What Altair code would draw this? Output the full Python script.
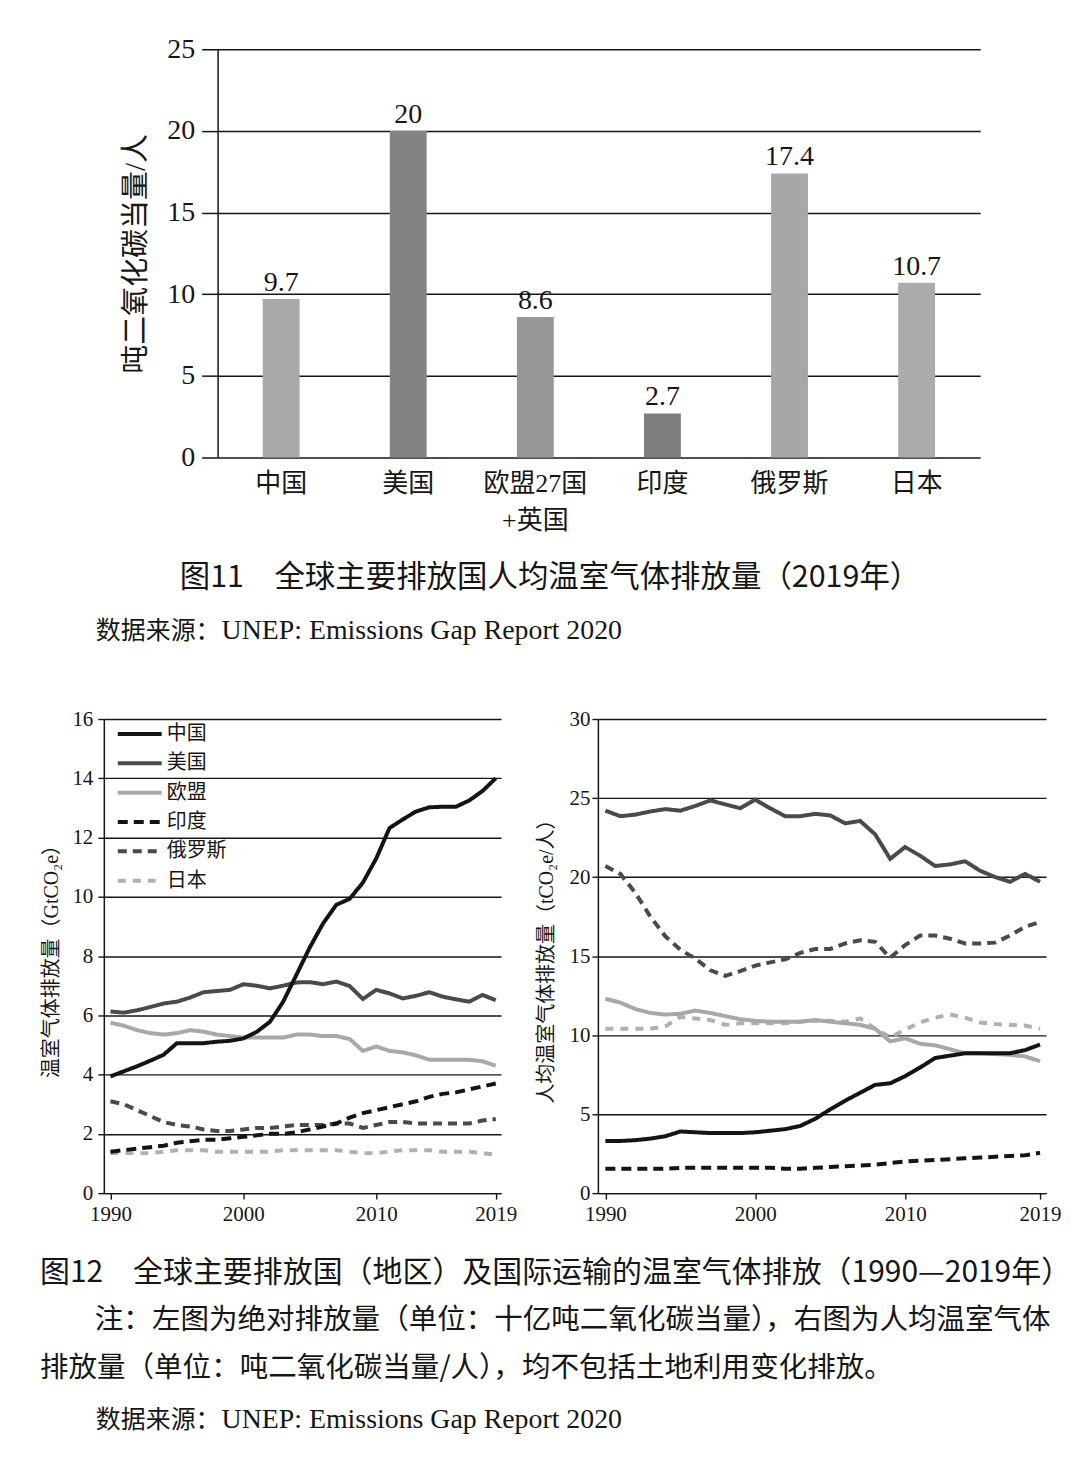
import altair as alt
import pandas as pd

SERIF = "Liberation Serif, Noto Sans CJK SC, serif"
CJK = "Noto Sans CJK SC, sans-serif"
INK = "#161616"

# ---------------- Figure 11 data ----------------
bar_categories = ["中国", "美国", "欧盟27国+英国", "印度", "俄罗斯", "日本"]
bar_values = [9.7, 20, 8.6, 2.7, 17.4, 10.7]
bar_value_labels = ["9.7", "20", "8.6", "2.7", "17.4", "10.7"]
bar_colors = ["#a9a9a9", "#838383", "#979797", "#7e7e7e", "#a7a7a7", "#ababab"]
bar_ticks = [0, 5, 10, 15, 20, 25]

caption11 = "图11　全球主要排放国人均温室气体排放量（2019年）"
source_cn = "数据来源："
source_en = "UNEP: Emissions Gap Report 2020"

# ---------------- Figure 12 data ----------------
years = list(range(1990, 2020))
series_names = ["中国", "美国", "欧盟", "印度", "俄罗斯", "日本"]
series_colors = ["#141414", "#4a4a4a", "#a8a8a8", "#141414", "#4a4a4a", "#b0b0b0"]
series_dashes = [[1, 0], [1, 0], [1, 0], [10, 6], [9, 6], [8, 7]]

abs_china = [3.94, 4.11, 4.28, 4.47, 4.67, 5.06, 5.06, 5.06, 5.11, 5.14,
             5.22, 5.44, 5.78, 6.46, 7.37, 8.29, 9.1, 9.73, 9.93, 10.48,
             11.29, 12.32, 12.61, 12.88, 13.02, 13.04, 13.04, 13.25, 13.57, 14.0]
abs_us = [6.13, 6.09, 6.17, 6.28, 6.4, 6.46, 6.6, 6.78, 6.82, 6.86,
          7.05, 7.0, 6.91, 7.0, 7.11, 7.12, 7.05, 7.14, 6.99, 6.55,
          6.86, 6.74, 6.57, 6.66, 6.78, 6.63, 6.54, 6.46, 6.69, 6.51]
abs_eu = [5.75, 5.65, 5.5, 5.4, 5.35, 5.4, 5.5, 5.45, 5.35, 5.3,
          5.25, 5.25, 5.25, 5.25, 5.35, 5.35, 5.3, 5.3, 5.2, 4.8,
          4.95, 4.8, 4.75, 4.65, 4.5, 4.5, 4.5, 4.5, 4.45, 4.3]
abs_india = [1.4, 1.45, 1.5, 1.55, 1.6, 1.7, 1.75, 1.8, 1.8, 1.85,
             1.9, 1.95, 2.0, 2.0, 2.05, 2.15, 2.25, 2.35, 2.55, 2.7,
             2.8, 2.9, 3.0, 3.1, 3.25, 3.35, 3.4, 3.5, 3.6, 3.7]
abs_russia = [3.1, 3.0, 2.8, 2.6, 2.4, 2.3, 2.25, 2.15, 2.1, 2.1,
              2.15, 2.2, 2.2, 2.25, 2.3, 2.3, 2.3, 2.35, 2.35, 2.2,
              2.3, 2.4, 2.4, 2.35, 2.35, 2.35, 2.35, 2.35, 2.45, 2.5]
abs_japan = [1.35, 1.35, 1.35, 1.35, 1.4, 1.45, 1.45, 1.45, 1.4, 1.4,
             1.4, 1.4, 1.4, 1.45, 1.45, 1.45, 1.45, 1.45, 1.4, 1.35,
             1.35, 1.4, 1.45, 1.45, 1.45, 1.4, 1.4, 1.4, 1.35, 1.3]

pc_china = [3.3, 3.3, 3.35, 3.45, 3.6, 3.9, 3.85, 3.8, 3.8, 3.8,
            3.85, 3.95, 4.05, 4.25, 4.7, 5.3, 5.85, 6.35, 6.85, 6.95,
            7.4, 7.95, 8.55, 8.7, 8.85, 8.85, 8.85, 8.85, 9.05, 9.4]
pc_us = [24.2, 23.85, 23.95, 24.15, 24.3, 24.2, 24.5, 24.85, 24.6, 24.35,
         24.9, 24.35, 23.85, 23.85, 24.0, 23.9, 23.4, 23.55, 22.7, 21.15,
         21.9, 21.35, 20.7, 20.8, 21.0, 20.4, 20.0, 19.7, 20.2, 19.7]
pc_eu = [12.3, 12.05, 11.65, 11.4, 11.3, 11.35, 11.55, 11.4, 11.2, 11.0,
         10.9, 10.85, 10.85, 10.85, 10.95, 10.85, 10.75, 10.65, 10.4, 9.6,
         9.8, 9.45, 9.35, 9.1, 8.85, 8.85, 8.8, 8.75, 8.65, 8.35]
pc_india = [1.55, 1.55, 1.55, 1.55, 1.55, 1.6, 1.6, 1.6, 1.6, 1.6,
            1.6, 1.6, 1.55, 1.55, 1.6, 1.65, 1.7, 1.75, 1.8, 1.9,
            2.0, 2.05, 2.1, 2.15, 2.2, 2.25, 2.3, 2.35, 2.4, 2.55]
pc_russia = [20.7, 20.2, 19.0, 17.5, 16.25, 15.4, 14.85, 14.1, 13.75, 14.05,
             14.4, 14.6, 14.8, 15.2, 15.45, 15.45, 15.8, 16.0, 15.9, 14.9,
             15.7, 16.3, 16.3, 16.1, 15.8, 15.8, 15.85, 16.3, 16.85, 17.15]
pc_japan = [10.4, 10.4, 10.4, 10.4, 10.55, 11.15, 11.05, 10.95, 10.65, 10.75,
            10.75, 10.75, 10.75, 10.85, 10.9, 10.9, 10.85, 11.05, 10.4, 9.85,
            10.35, 10.8, 11.1, 11.3, 11.1, 10.8, 10.7, 10.65, 10.6, 10.4]

x_ticks = [1990, 2000, 2010, 2019]
abs_ticks = [0, 2, 4, 6, 8, 10, 12, 14, 16]
pc_ticks = [0, 5, 10, 15, 20, 25, 30]

abs_title = "温室气体排放量（GtCO₂e）"
pc_title = "人均温室气体排放量（tCO₂e/人）"
caption12 = "图12　全球主要排放国（地区）及国际运输的温室气体排放（1990—2019年）"
note_line1 = "注：左图为绝对排放量（单位：十亿吨二氧化碳当量），右图为人均温室气体"
note_line2 = "排放量（单位：吨二氧化碳当量/人），均不包括土地利用变化排放。"


def long_df(cols):
    rows = []
    # reversed so that 中国 is drawn last (on top)
    for name, vals in reversed(list(zip(series_names, cols))):
        for yr, v in zip(years, vals):
            rows.append({"year": yr, "series": name, "value": v})
    return pd.DataFrame(rows)


abs_df = long_df([abs_china, abs_us, abs_eu, abs_india, abs_russia, abs_japan])
pc_df = long_df([pc_china, pc_us, pc_eu, pc_india, pc_russia, pc_japan])


def text_layer(s, x, y, size, font, align="left"):
    return alt.Chart(pd.DataFrame({"t": [s]})).mark_text(
        align=align, baseline="middle", font=font, fontSize=size, color=INK
    ).encode(x=alt.value(x), y=alt.value(y), text="t:N")


def y_axis(values, title, title_pad, label_pad, tick):
    return alt.Axis(
        values=values, title=title, titleFont=SERIF, titleFontSize=20,
        titleFontWeight="normal", titleColor=INK, titlePadding=title_pad,
        labelFont=SERIF, labelFontSize=21, labelColor=INK, labelPadding=label_pad,
        labelFlush=False, tickSize=tick, tickColor=INK, tickWidth=1.4,
        domainColor=INK, domainWidth=1.5, grid=True, gridColor=INK, gridWidth=1.4,
    )


x_axis_line = alt.Axis(
    values=x_ticks, format="d", title=None, labelFont=SERIF, labelFontSize=21,
    labelColor=INK, labelPadding=4, labelFlush=False, tickSize=6, tickColor=INK,
    tickWidth=1.4, domainColor=INK, domainWidth=1.5, grid=False,
)

color_enc = alt.Color("series:N", scale=alt.Scale(domain=series_names, range=series_colors), legend=None)
dash_enc = alt.StrokeDash("series:N", scale=alt.Scale(domain=series_names, range=series_dashes), legend=None)

# ---------------- Figure 11 chart ----------------
bar_df = pd.DataFrame({"cat": bar_categories, "val": bar_values, "lab": bar_value_labels})

x_bar = alt.X(
    "cat:N", sort=bar_categories,
    scale=alt.Scale(domain=bar_categories, paddingInner=0.71, paddingOuter=0.355),
    axis=alt.Axis(
        title=None, labelAngle=0, labelFont=SERIF, labelFontSize=26, labelColor=INK,
        labelPadding=13, ticks=False, domain=False, labelLineHeight=37,
        labelExpr="datum.value == '欧盟27国+英国' ? ['欧盟27国', '+英国'] : datum.label",
    ),
)
y_bar = alt.Y(
    "val:Q", scale=alt.Scale(domain=[0, 25], nice=False),
    axis=alt.Axis(
        values=bar_ticks, title="吨二氧化碳当量/人", titleFont=SERIF, titleFontSize=29,
        titleFontWeight="normal", titleColor=INK, titlePadding=16,
        labelFont=SERIF, labelFontSize=28, labelColor=INK, labelPadding=7,
        tickSize=16, tickColor=INK, tickWidth=1.5, domainColor=INK, domainWidth=1.5,
        grid=True, gridColor=INK, gridWidth=1.5,
    ),
)

bars = alt.Chart(bar_df).mark_bar().encode(
    x=x_bar, y=y_bar,
    color=alt.Color("cat:N", scale=alt.Scale(domain=bar_categories, range=bar_colors), legend=None),
)
bar_text = alt.Chart(bar_df).mark_text(
    font=SERIF, fontSize=28, color=INK, baseline="alphabetic", dy=-8
).encode(x=alt.X("cat:N", sort=bar_categories), y="val:Q", text="lab:N")

top = alt.layer(
    bars, bar_text,
    text_layer(caption11, 333, 530, 30.5, CJK, align="center"),
    text_layer(source_cn, -122, 583, 25, CJK),
    text_layer(source_en, 4, 583, 27.9, SERIF),
).properties(width=764, height=409)

# empty spacer that shifts the bar chart to the right of the line charts' origin
spacer = alt.Chart(pd.DataFrame({"t": [""]})).mark_text(opacity=0).encode(
    x=alt.value(0), y=alt.value(0), text="t:N"
).properties(width=114, height=409)

top_row = alt.hconcat(spacer, top, spacing=0, bounds="flush")

# ---------------- Figure 12 charts ----------------
x_line = alt.X("year:Q", scale=alt.Scale(domain=[1989.5, 2019.4], nice=False, zero=False), axis=x_axis_line)

left_lines = alt.Chart(abs_df).mark_line(strokeWidth=4).encode(
    x=x_line,
    y=alt.Y("value:Q", scale=alt.Scale(domain=[0, 16], nice=False),
            axis=y_axis(abs_ticks, abs_title, 10, 5, 6)),
    color=color_enc, strokeDash=dash_enc,
)

legend_df = pd.DataFrame({"series": series_names, "row": list(range(len(series_names)))})
legend_y = alt.Y("row:Q", scale=alt.Scale(domain=[0, 5], range=[15, 162], nice=False, zero=False), axis=None)
legend_rules = alt.Chart(legend_df).mark_rule(strokeWidth=4).encode(
    x=alt.value(14), x2=alt.value(58), y=legend_y, color=color_enc, strokeDash=dash_enc,
)
legend_text = alt.Chart(legend_df).mark_text(
    align="left", baseline="middle", font=CJK, fontSize=20, color=INK
).encode(x=alt.value(63), y=legend_y, text="series:N")

left = alt.layer(
    left_lines, legend_rules, legend_text,
    text_layer(caption12, -64, 555, 30, CJK),
    text_layer(note_line1, -9, 602, 28.6, CJK),
    text_layer(note_line2, -64, 650, 28.6, CJK),
    text_layer(source_cn, -8, 702, 25, CJK),
    text_layer(source_en, 118, 702, 27.9, SERIF),
).resolve_scale(y="independent").properties(width=398, height=475)

right = alt.Chart(pc_df).mark_line(strokeWidth=4).encode(
    x=x_line,
    y=alt.Y("value:Q", scale=alt.Scale(domain=[0, 30], nice=False),
            axis=y_axis(pc_ticks, pc_title, 12, 2, 6)),
    color=color_enc, strokeDash=dash_enc,
).properties(width=449, height=475)

bottom = alt.hconcat(left, right, spacing=97, bounds="flush")

chart = alt.vconcat(top_row, bottom, spacing=63).resolve_scale(
    color="independent", strokeDash="independent"
).properties(
    padding={"left": 32, "top": 26, "right": 0, "bottom": 14},
    background="white",
).configure_view(stroke=None)

chart.save("out.html", embed_options={"renderer": "svg", "actions": False})
